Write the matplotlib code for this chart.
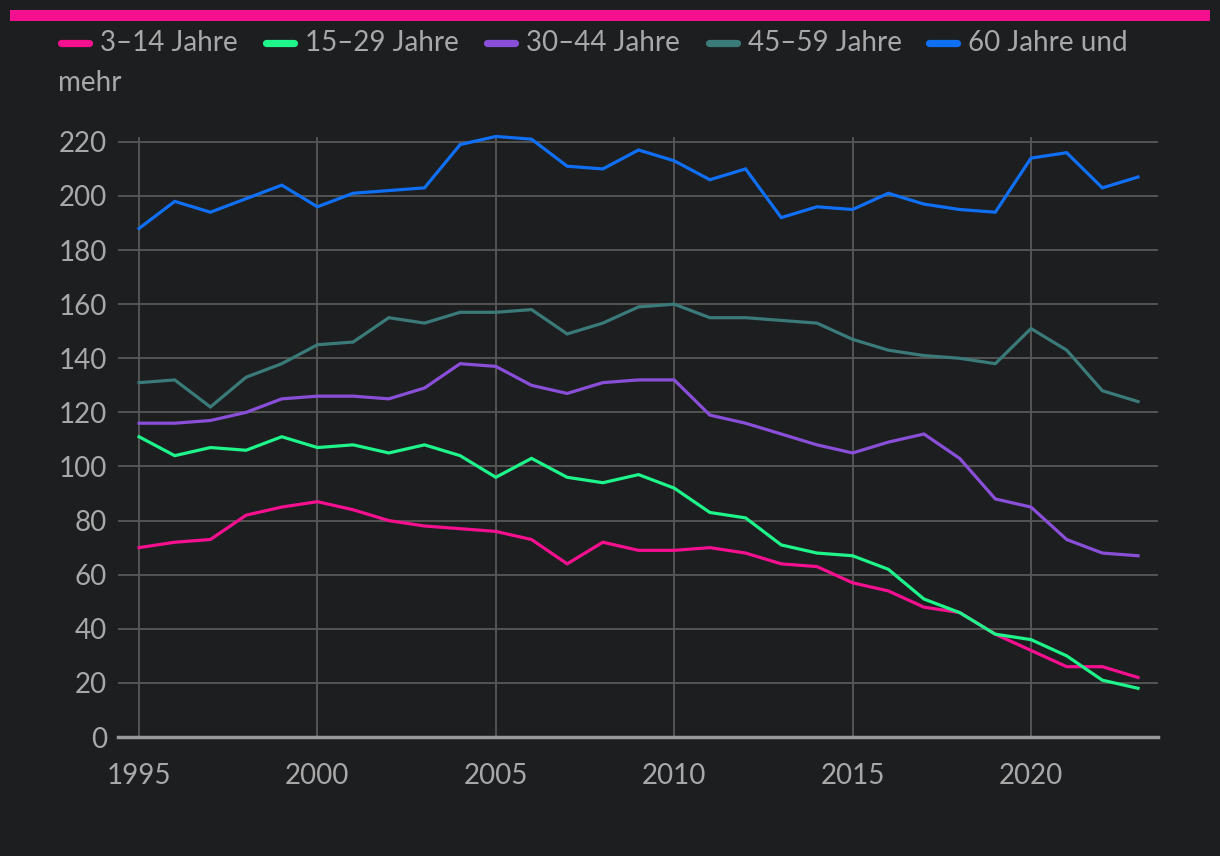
import numpy as np
import matplotlib
matplotlib.use('Agg')
from matplotlib import pyplot as plt
from matplotlib.lines import Line2D
from matplotlib.patches import Rectangle

years = list(range(1995, 2024))

# values
age_3_14 = [70, 72, 73, 82, 85, 87, 84, 80, 78, 77, 76, 73, 64, 72, 69,
            69, 70, 68, 64, 63, 57, 54, 48, 46, 38, 32, 26, 26, 22]
age_15_29 = [111, 104, 107, 106, 111, 107, 108, 105, 108, 104, 96, 103, 96, 94, 97,
             92, 83, 81, 71, 68, 67, 62, 51, 46, 38, 36, 30, 21, 18]
age_30_44 = [116, 116, 117, 120, 125, 126, 126, 125, 129, 138, 137, 130, 127, 131, 132,
             132, 119, 116, 112, 108, 105, 109, 112, 103, 88, 85, 73, 68, 67]
age_45_59 = [131, 132, 122, 133, 138, 145, 146, 155, 153, 157, 157, 158, 149, 153, 159,
             160, 155, 155, 154, 153, 147, 143, 141, 140, 138, 151, 143, 128, 124]
age_60_plus = [188, 198, 194, 199, 204, 196, 201, 202, 203, 219, 222, 221, 211, 210, 217,
               213, 206, 210, 192, 196, 195, 201, 197, 195, 194, 214, 216, 203, 207]

labels = ['3–14 Jahre', '15–29 Jahre', '30–44 Jahre', '45–59 Jahre', '60 Jahre und']
colors = ['#f5108f', '#1ef58a', '#8a4fd8', '#3a7a78', '#0f6ff5']
series = [age_3_14, age_15_29, age_30_44, age_45_59, age_60_plus]

bg = '#1d1e20'
txt = '#a8a8a8'
plt.rcParams['font.family'] = ['Lato', 'DejaVu Sans']

fig = plt.figure(figsize=(12.2, 8.56), dpi=100, facecolor=bg)
W, H = 1220, 856

# pink bar on top
fig.add_artist(Rectangle((10 / W, 1 - 21 / H), 1200 / W, 11 / H, transform=fig.transFigure,
                         facecolor='#f5108f', edgecolor='none'))

ax = fig.add_axes([118 / W, 1 - 737 / H, 1040 / W, 600 / H], facecolor=bg)
for vals, c in zip(series, colors):
    ax.plot(years, vals, color=c, lw=2.3, solid_joinstyle='miter', zorder=3, clip_on=False)

ax.set_xlim(1994.41, 2023.56)
ax.set_ylim(0, 221.8)
ax.set_yticks(range(0, 221, 20))
ax.set_xticks(range(1995, 2021, 5))
ax.grid(True, color='#585858', lw=1.3, zorder=0)
for s in ['top', 'right', 'left']:
    ax.spines[s].set_visible(False)
ax.spines['bottom'].set_color('#999999')
ax.spines['bottom'].set_linewidth(2.5)
ax.tick_params(length=0, colors=txt, labelsize=20)
ax.tick_params(axis='y', pad=8)
ax.tick_params(axis='x', pad=19)

# legend drawn by hand to mimic the wrapped layout
handles_x = [57, 262, 483, 705, 925]
for hx, lab, c in zip(handles_x, labels, colors):
    fig.add_artist(Line2D([(hx + 3.5) / W, (hx + 31.5) / W], [1 - 43 / H, 1 - 43 / H],
                          transform=fig.transFigure, color=c, lw=5.2,
                          solid_capstyle='round'))
    fig.text((hx + 43) / W, 1 - 43 / H, lab, color=txt, fontsize=20,
             va='center', ha='left')
fig.text(58 / W, 1 - 83 / H, 'mehr', color=txt, fontsize=20, va='center', ha='left')

fig.savefig('out.png', dpi=100, facecolor=bg)
